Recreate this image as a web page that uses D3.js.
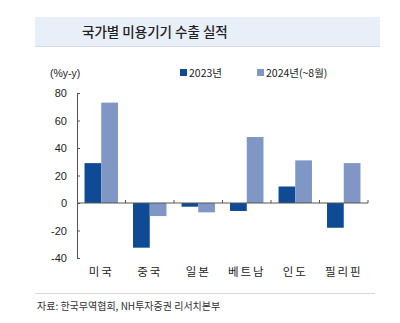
<!DOCTYPE html>
<html>
<head>
<meta charset="utf-8">
<script src="https://cdn.jsdelivr.net/npm/d3@7"></script>
<style>
  body { margin: 0; background: #fff; }
  svg text { font-family: "Noto Sans CJK KR", "Noto Sans", sans-serif; }
</style>
</head>
<body>
<svg id="chart"></svg>
<script>
// data
var countries = ["미국", "중국", "일본", "베트남", "인도", "필리핀"];
var series = ["2023년", "2024년(~8월)"];
var vals2023 = [29, -32.5, -2.7, -5.8, 12, -18];
var vals2024 = [73, -9.5, -6.8, 48, 31, 29];
var yTicks = [80, 60, 40, 20, 0, -20, -40];

var COLOURS = ["#0f4a94", "#8096c5"];

var W = 400, H = 323;
var svg = d3.select("#chart").attr("width", W).attr("height", H);

// title box
svg.append("rect").attr("x", 35).attr("y", 17).attr("width", 345).attr("height", 30)
    .attr("fill", "#e9eff8");
svg.append("line").attr("x1", 35).attr("x2", 380).attr("y1", 46.5).attr("y2", 46.5)
    .attr("stroke", "#d3dbe6").attr("stroke-width", 1);
svg.append("text").text("국가별 미용기기 수출 실적")
    .attr("x", 82).attr("y", 37)
    .style("font-size", "13.5px").style("font-weight", "500").style("fill", "#222");

// scales
var x0 = d3.scaleBand().domain(countries).range([77, 368]);
var x1 = d3.scaleBand().domain([0, 1]).range([0, x0.bandwidth()]).paddingOuter(0.45).paddingInner(0);
var y = d3.scaleLinear().domain([-40, 80]).range([258, 93]);

var g = svg.append("g");

// bars
var rows = countries.map(function (c, i) { return { c: c, v: [vals2023[i], vals2024[i]] }; });
g.selectAll("g.grp")
    .data(rows)
    .enter()
    .append("g")
    .attr("class", "grp")
    .attr("transform", function (d) { return "translate(" + x0(d.c) + ",0)"; })
    .selectAll("rect")
    .data(function (d) { return d.v; })
    .enter()
    .append("rect")
    .attr("x", function (d, i) { return x1(i); })
    .attr("width", x1.bandwidth())
    .attr("y", function (d) { return y(Math.max(0, d)); })
    .attr("height", function (d) { return Math.abs(y(d) - y(0)); })
    .attr("fill", function (d, i) { return COLOURS[i]; });

// left axis
var yAxis = g.append("g")
    .attr("transform", "translate(77,0)")
    .call(d3.axisRight(y).tickValues(yTicks).tickSize(3).tickFormat(function (d) { return String(d); }));
yAxis.select(".domain").attr("stroke", "#555");
yAxis.selectAll(".tick line").attr("stroke", "#555");
yAxis.selectAll(".tick text").attr("x", -10).style("text-anchor", "end")
    .style("font-size", "11px").style("fill", "#222")
    .style("font-family", "'Liberation Sans', Arial, sans-serif");

// zero line with category ticks
g.append("line")
    .attr("x1", x0.range()[0]).attr("x2", x0.range()[1])
    .attr("y1", y(0)).attr("y2", y(0))
    .attr("stroke", "#555");
g.selectAll("line.cattick")
    .data(countries)
    .enter()
    .append("line")
    .attr("class", "cattick")
    .attr("x1", function (d) { return x0(d) + x0.bandwidth(); })
    .attr("x2", function (d) { return x0(d) + x0.bandwidth(); })
    .attr("y1", y(0) - 3).attr("y2", y(0))
    .attr("stroke", "#555");

// category labels
g.selectAll("text.cat")
    .data(countries)
    .enter()
    .append("text")
    .attr("class", "cat")
    .text(function (d) { return d; })
    .attr("x", function (d) { return x0(d) + x0.bandwidth() / 2; })
    .attr("y", 276)
    .style("text-anchor", "middle")
    .style("font-size", "11.5px")
    .style("letter-spacing", "2px")
    .style("fill", "#222");

// unit label
svg.append("text").text("(%y-y)")
    .attr("x", 50).attr("y", 77)
    .style("font-size", "10.5px").style("fill", "#222")
    .style("font-family", "'Liberation Sans', Arial, sans-serif");

// legend
var legX = [180, 257];
var leg = svg.selectAll("g.leg")
    .data(series)
    .enter()
    .append("g")
    .attr("class", "leg")
    .attr("transform", function (d, i) { return "translate(" + legX[i] + ",73)"; });
leg.append("rect").attr("x", 0).attr("y", -4).attr("width", 7).attr("height", 7)
    .attr("fill", function (d, i) { return COLOURS[i]; });
leg.append("text").text(function (d) { return d; })
    .attr("x", 9).attr("y", 4)
    .style("font-size", "10.5px").style("fill", "#222");

// footer
svg.append("line").attr("x1", 35).attr("x2", 375).attr("y1", 293.5).attr("y2", 293.5)
    .attr("stroke", "#d8d8d8");
svg.append("text").text("자료: 한국무역협회, NH투자증권 리서치본부")
    .attr("x", 37).attr("y", 310)
    .style("font-size", "10px").style("fill", "#333");
</script>
</body>
</html>
